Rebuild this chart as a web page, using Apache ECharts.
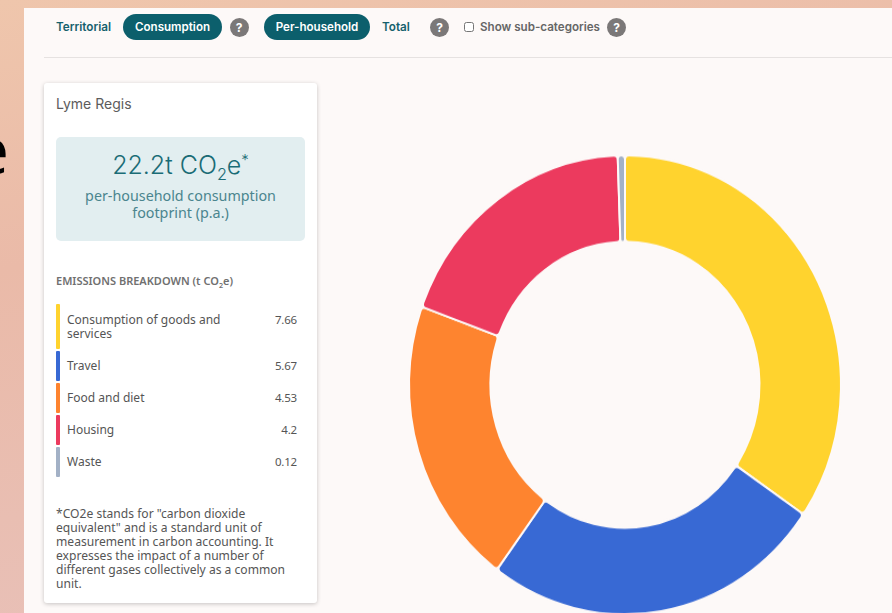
<!DOCTYPE html>
<html>
<head>
<meta charset="utf-8">
<title>Lyme Regis</title>
<script src="https://cdn.jsdelivr.net/npm/echarts@6/dist/echarts.min.js"></script>
<style>
html, body { margin: 0; padding: 0; width: 892px; height: 613px; overflow: hidden; }
body { position: relative; background: linear-gradient(170deg, #efc6ac 0%, #eabaa8 35%, #e8c2bc 100%); font-family: "Noto Sans", sans-serif; }
.abs { position: absolute; white-space: nowrap; }
#page { position: absolute; left: 24px; top: 8px; width: 868px; height: 605px; background: #fdf9f8; }
#bige { left: -28px; top: 108px; font: 66px/80px "Open Sans", sans-serif; color: #000; }
.nav { font: 600 11.7px/16px Inter, sans-serif; color: #15616d; top: 19px; }
.pill { top: 14px; height: 26px; border-radius: 13px; background: #0c5f6c; color: #fff; text-align: center; font: 600 11.6px/26px Inter, sans-serif; }
.help { top: 17.5px; width: 19px; height: 19px; border-radius: 50%; background: #7b7878; color: #fff; text-align: center; font: 700 12px/19px Inter, sans-serif; }
#divider { left: 44px; top: 57px; width: 848px; height: 1px; background: #e6e2e1; }
#card { left: 44px; top: 83px; width: 273px; height: 520px; background: #fff; border-radius: 3px; box-shadow: 0 1px 4px rgba(0,0,0,.22); }
#headline { left: 56px; top: 137px; width: 249px; height: 104px; background: #e2eef0; border-radius: 5px; }
.row-bar { position: absolute; left: 56px; width: 4px; border-radius: 1px; }
.row-name { position: absolute; left: 67px; width: 175px; font-size: 12px; line-height: 14px; color: #555; }
.row-val { position: absolute; left: 240px; width: 57px; text-align: right; font-size: 11.5px; line-height: 14px; color: #555; letter-spacing: -.2px; }
sub { font-size: 65%; line-height: 0; }
#donut { position: absolute; left: 330px; top: 99px; width: 562px; height: 540px; transform-origin: 0 0; transform: scaleY(1.0627); }
</style>
</head>
<body>
<div id="bige" class="abs">e</div>
<div id="page"></div>
<div class="abs nav" style="left:56px">Territorial</div>
<div class="abs pill" style="left:123px;width:99px">Consumption</div>
<div class="abs help" style="left:229.5px">?</div>
<div class="abs pill" style="left:264px;width:106px">Per-household</div>
<div class="abs nav" style="left:382px">Total</div>
<div class="abs help" style="left:430px">?</div>
<input class="abs" type="checkbox" style="left:464px;top:22px;width:10px;height:10px;margin:0">
<div class="abs nav" style="left:480px;color:#666;font-size:11.6px">Show sub-categories</div>
<div class="abs help" style="left:607px">?</div>
<div id="divider" class="abs"></div>

<div id="card" class="abs"></div>
<div class="abs" style="left:56px;top:95px;font:14px/18px Inter,sans-serif;color:#5c5c5c">Lyme Regis</div>
<div id="headline" class="abs"></div>
<div class="abs" style="left:56px;width:249px;top:149px;text-align:center;font:300 25px/32px Inter,sans-serif;color:#1a6c76">22.2t CO<sub>2</sub>e<sup style="font-size:60%;line-height:0">*</sup></div>
<div class="abs" style="left:56px;width:249px;top:188px;text-align:center;font:14.3px/16.5px 'Noto Sans',sans-serif;color:#4a858e">per-household consumption<br>footprint (p.a.)</div>
<div class="abs" style="left:56px;top:273px;font:600 11px/15px 'Noto Sans',sans-serif;color:#707070">EMISSIONS BREAKDOWN (t CO<sub>2</sub>e)</div>
<div id="rows"></div>
<div class="abs" style="left:56px;top:507px;font:12.1px/14px 'Noto Sans',sans-serif;color:#555">*CO2e stands for "carbon dioxide<br>equivalent" and is a standard unit of<br>measurement in carbon accounting. It<br>expresses the impact of a number of<br>different gases collectively as a common<br>unit.</div>

<div id="donut"></div>

<script>
var categories = ['Consumption of goods and services', 'Travel', 'Food and diet', 'Housing', 'Waste'];
var values = [7.66, 5.67, 4.53, 4.2, 0.12];
var colors = ['#ffd32e', '#3869d4', '#fe842f', '#ec3a5e', '#a3b1c6'];

function build_rows() {
    var tops = [304, 351, 383, 415, 447];
    var heights = [45, 30, 30, 30, 30];
    var box = document.getElementById('rows');
    var html = '';
    for (var i = 0; i < categories.length; i++) {
        var textTop = i == 0 ? tops[i] + 9 : tops[i] + 8;
        html += '<div class="row-bar" style="top:' + tops[i] + 'px;height:' + heights[i] + 'px;background:' + colors[i] + '"></div>';
        html += '<div class="row-name" style="top:' + textTop + 'px">' + categories[i] + '</div>';
        html += '<div class="row-val" style="top:' + textTop + 'px">' + values[i] + '</div>';
    }
    box.innerHTML = html;
}

function draw_donut() {
    var myChart = echarts.init(document.getElementById('donut'));
    var seriesData = [];
    for (var i = 0; i < categories.length; i++) {
        seriesData.push({
            name: categories[i],
            value: values[i],
            itemStyle: { color: colors[i] }
        });
    }
    var option = {
        animation: false,
        backgroundColor: 'transparent',
        series: [
            {
                type: 'pie',
                center: [295, 269],
                radius: [134.5, 216],
                startAngle: 90,
                clockwise: true,
                label: { show: false },
                labelLine: { show: false },
                itemStyle: {
                    borderColor: '#fdf9f8',
                    borderWidth: 2,
                    borderRadius: 4
                },
                data: seriesData
            }
        ]
    };
    myChart.setOption(option);
}

build_rows();
draw_donut();
</script>
</body>
</html>
